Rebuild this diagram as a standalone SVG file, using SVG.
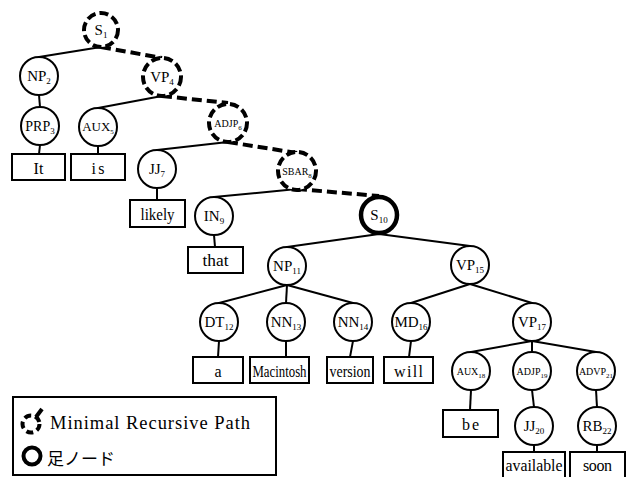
<svg xmlns="http://www.w3.org/2000/svg" width="631" height="477" viewBox="0 0 631 477" font-family="'Liberation Serif', 'Times New Roman', 'Noto Sans CJK JP', serif">
<style>
.n circle{fill:#fff;stroke:#000;stroke-width:2}
.d circle{fill:#fff;stroke:#000;stroke-width:4;stroke-dasharray:9 4}
.f circle{fill:#fff;stroke:#000;stroke-width:4.5}
text{fill:#000;text-anchor:middle}
.l{font-size:15px}
.w{font-size:16px}
.s{font-size:10px}
.sub{font-size:9px}
.ssub{font-size:7px}
rect.b{fill:#fff;stroke:#000;stroke-width:2}
.e line{stroke:#000;stroke-width:2}
.e line.p{stroke-width:4;stroke-dasharray:10 5}
</style>
<g id="connectors" class="e">
<line x1="101" y1="47" x2="39" y2="57"/>
<line class="p" x1="101" y1="47" x2="162" y2="58"/>
<line x1="39" y1="95" x2="40" y2="107"/>
<line x1="40" y1="145" x2="39" y2="154"/>
<line x1="162" y1="96" x2="98" y2="108"/>
<line class="p" x1="162" y1="96" x2="228" y2="103"/>
<line x1="98" y1="146" x2="98" y2="154"/>
<line x1="228" y1="142" x2="157" y2="150"/>
<line class="p" x1="228" y1="142" x2="297" y2="153"/>
<line x1="157" y1="188" x2="157" y2="200"/>
<line x1="297" y1="189" x2="214" y2="197"/>
<line class="p" x1="297" y1="189" x2="379" y2="196"/>
<line x1="214" y1="235" x2="215" y2="247"/>
<line x1="379" y1="234" x2="287" y2="247"/>
<line x1="379" y1="234" x2="470" y2="246"/>
<line x1="287" y1="285" x2="219" y2="303"/>
<line x1="287" y1="285" x2="286" y2="303"/>
<line x1="287" y1="285" x2="353" y2="303"/>
<line x1="219" y1="341" x2="218" y2="357"/>
<line x1="286" y1="341" x2="286" y2="357"/>
<line x1="353" y1="341" x2="350" y2="357"/>
<line x1="470" y1="284" x2="411" y2="303"/>
<line x1="470" y1="284" x2="532" y2="303"/>
<line x1="411" y1="341" x2="409" y2="357"/>
<line x1="532" y1="341" x2="471" y2="352"/>
<line x1="532" y1="341" x2="532" y2="352"/>
<line x1="532" y1="341" x2="596" y2="352"/>
<line x1="471" y1="390" x2="470" y2="410"/>
<line x1="532" y1="390" x2="534" y2="407"/>
<line x1="596" y1="390" x2="597" y2="407"/>
<line x1="534" y1="445" x2="534" y2="452"/>
<line x1="597" y1="445" x2="597" y2="452"/>
</g>
<g id="S1" class="d"><circle cx="101" cy="30" r="17"/><text class="l" x="101" y="35">S<tspan class="sub" dy="3">1</tspan></text></g>
<g id="NP2" class="n"><circle cx="39" cy="76" r="19"/><text class="l" x="39" y="81">NP<tspan class="sub" dy="3">2</tspan></text></g>
<g id="VP4" class="d"><circle cx="162" cy="77" r="19"/><text class="l" x="162" y="82">VP<tspan class="sub" dy="3">4</tspan></text></g>
<g id="PRP3" class="n"><circle cx="40" cy="126" r="19"/><text x="40" y="131" font-size="14">PRP<tspan class="sub" dy="3">3</tspan></text></g>
<g id="AUX5" class="n"><circle cx="98" cy="127" r="19"/><text x="98" y="131" font-size="13">AUX<tspan class="ssub" dy="3">5</tspan></text></g>
<g id="ADJP6" class="d"><circle cx="228" cy="123" r="19"/><text class="s" x="228" y="127">ADJP<tspan class="ssub" dy="3">6</tspan></text></g>
<g id="It"><rect class="b" x="12" y="154" width="53" height="26"/><text class="w" x="38.5" y="174">It</text></g>
<g id="is"><rect class="b" x="71" y="154" width="54" height="26"/><text class="w" x="98" y="174" textLength="13">is</text></g>
<g id="JJ7" class="n"><circle cx="157" cy="169" r="19"/><text class="l" x="157" y="174">JJ<tspan class="sub" dy="3">7</tspan></text></g>
<g id="SBAR8" class="d"><circle cx="297" cy="171" r="19"/><text class="s" x="297" y="175">SBAR<tspan class="ssub" dy="3">8</tspan></text></g>
<g id="likely"><rect class="b" x="130" y="200" width="55" height="27"/><text class="w" x="157.5" y="220" textLength="34" lengthAdjust="spacingAndGlyphs">likely</text></g>
<g id="IN9" class="n"><circle cx="214" cy="216" r="19"/><text class="l" x="214" y="221">IN<tspan class="sub" dy="3">9</tspan></text></g>
<g id="S10" class="f"><circle cx="379" cy="215" r="18"/><text class="l" x="379" y="220">S<tspan class="sub" dy="3">10</tspan></text></g>
<g id="that"><rect class="b" x="188" y="247" width="55" height="26"/><text class="w" x="215.5" y="266" textLength="26" lengthAdjust="spacingAndGlyphs">that</text></g>
<g id="NP11" class="n"><circle cx="287" cy="266" r="19"/><text class="l" x="287" y="271">NP<tspan class="sub" dy="3">11</tspan></text></g>
<g id="VP15" class="n"><circle cx="470" cy="265" r="19"/><text class="l" x="470" y="270">VP<tspan class="sub" dy="3">15</tspan></text></g>
<g id="DT12" class="n"><circle cx="219" cy="322" r="19"/><text class="l" x="219" y="327">DT<tspan class="sub" dy="3">12</tspan></text></g>
<g id="NN13" class="n"><circle cx="286" cy="322" r="19"/><text class="l" x="286" y="327">NN<tspan class="sub" dy="3">13</tspan></text></g>
<g id="NN14" class="n"><circle cx="353" cy="322" r="19"/><text class="l" x="353" y="327">NN<tspan class="sub" dy="3">14</tspan></text></g>
<g id="MD16" class="n"><circle cx="411" cy="322" r="19"/><text class="l" x="411" y="327">MD<tspan class="sub" dy="3">16</tspan></text></g>
<g id="VP17" class="n"><circle cx="532" cy="322" r="19"/><text class="l" x="532" y="327">VP<tspan class="sub" dy="3">17</tspan></text></g>
<g id="a"><rect class="b" x="193" y="357" width="50" height="26"/><text class="w" x="218" y="377">a</text></g>
<g id="Macintosh"><rect class="b" x="250" y="357" width="59" height="26"/><text class="w" x="279.5" y="377" textLength="54" lengthAdjust="spacingAndGlyphs">Macintosh</text></g>
<g id="version"><rect class="b" x="327" y="357" width="46" height="26"/><text class="w" x="350" y="377" textLength="41" lengthAdjust="spacingAndGlyphs">version</text></g>
<g id="will"><rect class="b" x="384" y="357" width="49" height="26"/><text class="w" x="408.5" y="377" textLength="29">will</text></g>
<g id="AUX18" class="n"><circle cx="471" cy="371" r="19"/><text class="s" x="471" y="375">AUX<tspan class="ssub" dy="3">18</tspan></text></g>
<g id="ADJP19" class="n"><circle cx="532" cy="371" r="19"/><text class="s" x="532" y="375">ADJP<tspan class="ssub" dy="3">19</tspan></text></g>
<g id="ADVP21" class="n"><circle cx="596" cy="371" r="19"/><text class="s" x="596" y="375">ADVP<tspan class="ssub" dy="3">21</tspan></text></g>
<g id="be"><rect class="b" x="443" y="410" width="55" height="27"/><text class="w" x="470.5" y="430" textLength="17">be</text></g>
<g id="JJ20" class="n"><circle cx="534" cy="426" r="19"/><text class="l" x="534" y="431">JJ<tspan class="sub" dy="3">20</tspan></text></g>
<g id="RB22" class="n"><circle cx="597" cy="426" r="19"/><text class="l" x="597" y="431">RB<tspan class="sub" dy="3">22</tspan></text></g>
<g id="available"><rect class="b" x="503" y="452" width="62" height="26"/><text class="w" x="534" y="471" textLength="57" lengthAdjust="spacingAndGlyphs">available</text></g>
<g id="soon"><rect class="b" x="570" y="452" width="55" height="26"/><text class="w" x="597.5" y="471" textLength="29">soon</text></g>
<g id="legend">
<rect x="13" y="397" width="263" height="78" fill="#fff" stroke="#000" stroke-width="2"/>
<circle cx="31" cy="424" r="8.5" fill="none" stroke="#000" stroke-width="4" stroke-dasharray="7 4"/>
<line x1="36" y1="417" x2="42" y2="409" stroke="#000" stroke-width="4"/>
<text x="50" y="429" font-size="18.5" text-anchor="start" style="text-anchor:start" textLength="200">Minimal Recursive Path</text>
<circle cx="32" cy="456" r="8.5" fill="none" stroke="#000" stroke-width="4"/>
<text x="47" y="465" font-size="17" style="text-anchor:start">足ノード</text>
</g>
</svg>
